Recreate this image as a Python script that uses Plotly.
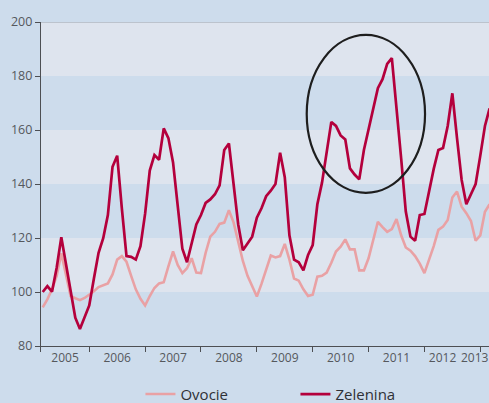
import pandas as pd
import plotly.graph_objects as go

# Monthly index values, March 2005 - March 2013
months = pd.period_range("2005-03", "2013-03", freq="M")

ovocie = [
    94.3, 97.3, 101.0, 106.0, 114.3, 106.0, 98.5, 97.7, 97.0, 97.8,
    99.0, 100.3, 101.8, 102.5, 103.2, 106.5, 112.0, 113.3, 111.2, 106.0,
    101.0, 97.5, 95.0, 98.5, 101.5, 103.2, 103.6, 109.5, 115.0, 110.0,
    107.0, 108.8, 112.5, 107.2, 107.0, 114.5, 120.5, 122.3, 125.2, 125.7,
    130.3, 125.8, 119.0, 111.5, 106.0, 102.3, 98.3, 103.0, 108.0, 113.5,
    112.8, 113.3, 117.8, 112.0, 105.0, 104.2, 101.0, 98.5, 99.0, 105.7,
    106.0, 107.2, 110.8, 115.0, 116.8, 119.5, 115.8, 115.8, 108.0, 108.0,
    112.5, 118.8, 126.0, 124.0, 122.3, 123.3, 127.0, 121.0, 116.5, 115.3,
    113.3, 110.5, 107.0, 112.0, 117.0, 123.0, 124.2, 126.7, 135.0, 137.2,
    131.6, 129.2, 126.3, 119.0, 121.0, 129.7, 132.5,
]

zelenina = [
    100.0, 102.2, 100.1, 109.0, 120.3, 110.0, 100.0, 90.5, 86.3, 91.0,
    95.0, 105.0, 114.5, 119.9, 128.5, 146.4, 150.5, 131.0, 113.3, 113.0,
    112.0, 117.0, 129.0, 145.0, 150.7, 149.0, 160.6, 157.0, 148.0, 132.0,
    116.0, 111.0, 118.0, 125.0, 128.5, 133.0, 134.3, 136.2, 139.5, 152.6,
    155.0, 141.0, 125.0, 115.5, 118.0, 120.5, 127.5, 131.0, 135.5, 137.5,
    140.0, 151.6, 142.5, 121.0, 112.0, 111.0, 108.0, 113.7, 117.4, 132.5,
    140.5, 151.7, 163.0, 161.5, 158.0, 156.5, 145.8, 143.5, 141.7, 152.6,
    160.2, 167.8, 175.5, 178.8, 184.5, 186.6, 169.0, 149.5, 129.8, 120.5,
    119.0, 128.5, 128.9, 138.0, 145.6, 152.6, 153.3, 161.5, 173.6, 157.0,
    141.5, 132.5, 136.0, 140.0, 150.5, 161.5, 168.0,
]

year_labels = ["2005", "2006", "2007", "2008", "2009", "2010", "2011", "2012", "2013"]
label_pos = [2005.566, 2006.5, 2007.5, 2008.5, 2009.5, 2010.5, 2011.5, 2012.324, 2012.9]
year_starts = [2005.136, 2006, 2007, 2008, 2009, 2010, 2011, 2012, 2013]

# decimal-year position of each month
x = [p.year + (p.month - 1) / 12 for p in months]

BG = "#cddcec"
BAND = "#dee4ee"
AXIS = "#4d4f53"
TEXT = "#55585d"

fig = go.Figure()
fig.add_trace(go.Scatter(x=x, y=ovocie, name="Ovocie", mode="lines",
                         line=dict(color="#e9a1a4", width=2.6)))
fig.add_trace(go.Scatter(x=x, y=zelenina, name="Zelenina", mode="lines",
                         line=dict(color="#b4003c", width=2.7)))

# alternating horizontal bands
for lo, hi in [(180, 200), (140, 160), (100, 120)]:
    fig.add_shape(type="rect", xref="paper", x0=0, x1=1, yref="y", y0=lo, y1=hi,
                  fillcolor=BAND, line_width=0, layer="below")

# top border line
fig.add_shape(type="line", xref="paper", x0=0, x1=1, yref="y", y0=200, y1=200,
              line=dict(color="#9aa2ab", width=1), layer="above")

# highlight ring around the 2010-2011 surge
fig.add_shape(type="circle", xref="x", yref="y",
              x0=2009.893, x1=2012.011, y0=136.7, y1=195.2,
              line=dict(color="#1e1e1e", width=2.2))

fig.update_layout(
    width=489, height=403,
    margin=dict(l=41, r=0, t=22, b=57, autoexpand=False),
    paper_bgcolor=BG, plot_bgcolor=BG,
    font=dict(family="Open Sans, sans-serif", color=TEXT, size=12),
    showlegend=True,
    legend=dict(orientation="h", x=0.222, xanchor="left", y=-0.149, yanchor="middle",
                entrywidth=110, entrywidthmode="pixels",
                font=dict(size=15, color="#2f3136"), bgcolor="rgba(0,0,0,0)"),
    xaxis=dict(range=[2005.1362, 2013.156], tickmode="array", tickvals=label_pos,
               ticktext=year_labels, ticks="", showgrid=False, zeroline=False,
               showline=True, linecolor=AXIS, linewidth=1.2,
               ticklabeloverflow="allow",
               tickfont=dict(size=12, color=TEXT),
               minor=dict(tickmode="array", tickvals=year_starts, ticks="outside",
                          ticklen=5, tickcolor=AXIS, tickwidth=1.2, showgrid=False)),
    yaxis=dict(range=[80, 200], tickmode="array", tickvals=[80, 100, 120, 140, 160, 180, 200],
               ticks="outside", ticklen=5, tickcolor=AXIS, tickwidth=1.2,
               showgrid=False, zeroline=False, showline=True, linecolor=AXIS, linewidth=1.2,
               tickfont=dict(size=12.5, color=TEXT)),
)

fig.write_html("out.html")
